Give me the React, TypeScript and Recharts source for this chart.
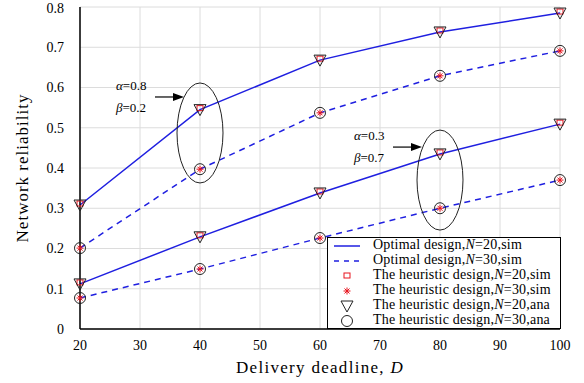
import {
  CartesianGrid,
  ComposedChart,
  Line,
  ReferenceDot,
  Scatter,
  XAxis,
  YAxis,
} from 'recharts';

const deadlines = [20, 40, 60, 80, 100];

// optimal design (sim) – alpha=0.8/beta=0.2 and alpha=0.3/beta=0.7
const optN20a08 = [0.308, 0.545, 0.668, 0.738, 0.785];
const optN30a08 = [0.201, 0.397, 0.537, 0.629, 0.691];
const optN20a03 = [0.112, 0.229, 0.338, 0.435, 0.509];
const optN30a03 = [0.077, 0.149, 0.226, 0.3, 0.37];

// heuristic design, sim and ana
const heurSimN20a08 = [0.308, 0.545, 0.668, 0.738, 0.785];
const heurSimN30a08 = [0.201, 0.397, 0.537, 0.629, 0.691];
const heurSimN20a03 = [0.112, 0.229, 0.338, 0.435, 0.509];
const heurSimN30a03 = [0.077, 0.149, 0.226, 0.3, 0.37];
const heurAnaN20a08 = [0.308, 0.545, 0.668, 0.738, 0.785];
const heurAnaN30a08 = [0.201, 0.397, 0.537, 0.629, 0.691];
const heurAnaN20a03 = [0.112, 0.229, 0.338, 0.435, 0.509];
const heurAnaN30a03 = [0.077, 0.149, 0.226, 0.3, 0.37];

const xTicks = [20, 30, 40, 50, 60, 70, 80, 90, 100];
const yTicks = [0, 0.1, 0.2, 0.3, 0.4, 0.5, 0.6, 0.7, 0.8];

const legendLabels = [
  'Optimal design,',
  'Optimal design,',
  'The heuristic design,',
  'The heuristic design,',
  'The heuristic design,',
  'The heuristic design,',
];
const legendSuffix = ['=20,sim', '=30,sim', '=20,sim', '=30,sim', '=20,ana', '=30,ana'];

const FONT = '"Liberation Serif", "DejaVu Serif", serif';
const BLUE = '#1f1fe0';
const RED = '#e8141e';

const chartData = deadlines.map((d, i) => ({
  D: d,
  o20a: optN20a08[i],
  o30a: optN30a08[i],
  o20b: optN20a03[i],
  o30b: optN30a03[i],
  hs20a: heurSimN20a08[i],
  hs30a: heurSimN30a08[i],
  hs20b: heurSimN20a03[i],
  hs30b: heurSimN30a03[i],
  ha20a: heurAnaN20a08[i],
  ha30a: heurAnaN30a08[i],
  ha20b: heurAnaN20a03[i],
  ha30b: heurAnaN30a03[i],
}));

function Triangle({ cx, cy }: any) {
  if (cx == null || cy == null) return null;
  return (
    <path
      d={`M${cx - 6},${cy - 5} L${cx + 6},${cy - 5} L${cx},${cy + 6} Z`}
      fill="none"
      stroke="#222"
      strokeWidth={1}
    />
  );
}

function Circle({ cx, cy }: any) {
  if (cx == null || cy == null) return null;
  return <circle cx={cx} cy={cy} r={5.5} fill="none" stroke="#222" strokeWidth={1} />;
}

function Square({ cx, cy }: any) {
  if (cx == null || cy == null) return null;
  return <rect x={cx - 3} y={cy - 4} width={6} height={5} fill="none" stroke={RED} strokeWidth={1} />;
}

function Star({ cx, cy }: any) {
  if (cx == null || cy == null) return null;
  const r = 3.5;
  return (
    <g stroke={RED} strokeWidth={1}>
      <line x1={cx - r} y1={cy} x2={cx + r} y2={cy} />
      <line x1={cx} y1={cy - r} x2={cx} y2={cy + r} />
      <line x1={cx - 2.5} y1={cy - 2.5} x2={cx + 2.5} y2={cy + 2.5} />
      <line x1={cx - 2.5} y1={cy + 2.5} x2={cx + 2.5} y2={cy - 2.5} />
    </g>
  );
}

function Annotation({ cx, cy, ry, dx, dy, alpha, beta }: any) {
  if (cx == null || cy == null) return null;
  const ax = cx + dx;
  const ay = cy + dy;
  return (
    <g>
      <ellipse cx={cx} cy={cy} rx={23} ry={ry} fill="none" stroke="#222" strokeWidth={1} />
      <line x1={ax - 29} y1={ay} x2={ax - 8} y2={ay} stroke="#000" strokeWidth={1.2} />
      <path d={`M${ax - 11},${ay - 4} L${ax},${ay} L${ax - 11},${ay + 4} Z`} fill="#000" />
      <text x={ax - 68} y={ay - 7} fontFamily={FONT} fontSize={13} fill="#000">
        <tspan fontStyle="italic">α</tspan>=0.{alpha}
      </text>
      <text x={ax - 68} y={ay + 15} fontFamily={FONT} fontSize={13} fill="#000">
        <tspan fontStyle="italic">β</tspan>=0.{beta}
      </text>
    </g>
  );
}

function LegendBox() {
  const glyph = (i: number) => {
    if (i === 0) return <line x1={4} y1={8} x2={30} y2={8} stroke={BLUE} strokeWidth={1.5} />;
    if (i === 1)
      return <line x1={4} y1={8} x2={30} y2={8} stroke={BLUE} strokeWidth={1.5} strokeDasharray="5 5" />;
    if (i === 2) return <Square cx={17} cy={9} />;
    if (i === 3) return <Star cx={17} cy={8} />;
    if (i === 4) return <Triangle cx={17} cy={8} />;
    return <Circle cx={17} cy={8} />;
  };
  return (
    <div
      style={{
        position: 'absolute',
        left: 327,
        top: 237,
        width: 234,
        height: 92,
        background: '#fff',
        border: '1.5px solid #000',
        padding: '0px 2px',
        fontFamily: FONT,
        fontSize: 14,
        lineHeight: '14.9px',
        color: '#000',
        boxSizing: 'border-box',
      }}
    >
      {legendLabels.map((label, i) => (
        <div key={i} style={{ display: 'flex', alignItems: 'center', whiteSpace: 'nowrap' }}>
          <svg width={34} height={14} style={{ flex: 'none' }}>
            {glyph(i)}
          </svg>
          <span style={{ marginLeft: 9, letterSpacing: 0.2 }}>
            {label}
            <i>N</i>
            {legendSuffix[i]}
          </span>
        </div>
      ))}
    </div>
  );
}

export default function App() {
  return (
    <div style={{ position: 'absolute', left: 0, top: 0, width: 584, height: 383, background: '#fff' }}>
      <ComposedChart
        width={584}
        height={383}
        data={chartData}
        margin={{ top: 7, right: 24, left: 20, bottom: 24 }}
      >
        <CartesianGrid stroke="#dcdcdc" strokeWidth={1} />
        <XAxis
          dataKey="D"
          type="number"
          domain={[20, 100]}
          ticks={xTicks}
          tick={{ fill: '#000', fontSize: 14, fontFamily: FONT }}
          tickLine={false}
          axisLine={{ stroke: '#000', strokeWidth: 1.5 }}
          tickMargin={5}
          height={30}
        />
        <XAxis
          xAxisId="top"
          orientation="top"
          dataKey="D"
          type="number"
          domain={[20, 100]}
          ticks={xTicks}
          tick={false}
          tickLine={false}
          axisLine={{ stroke: '#000', strokeWidth: 1.5 }}
          height={0}
        />
        <YAxis
          type="number"
          domain={[0, 0.8]}
          ticks={yTicks}
          tickFormatter={(v: number) => (v === 0 ? '0' : String(v))}
          tick={{ fill: '#000', fontSize: 14, fontFamily: FONT }}
          tickLine={false}
          axisLine={{ stroke: '#000', strokeWidth: 1.5 }}
          width={60}
          tickMargin={10}
          label={{
            value: 'Network reliability',
            angle: -90,
            position: 'insideLeft',
            offset: 2,
            style: { textAnchor: 'middle', letterSpacing: 1 },
            fill: '#000',
            fontSize: 17,
            fontFamily: FONT,
          }}
        />
        <YAxis
          yAxisId="right"
          orientation="right"
          type="number"
          domain={[0, 0.8]}
          ticks={yTicks}
          tick={false}
          tickLine={false}
          axisLine={{ stroke: '#000', strokeWidth: 1.5 }}
          width={0}
        />
        <Line dataKey="o20a" stroke={BLUE} strokeWidth={1.5} dot={false} isAnimationActive={false} />
        <Line dataKey="o30a" stroke={BLUE} strokeWidth={1.5} strokeDasharray="6 5" dot={false} isAnimationActive={false} />
        <Line dataKey="o20b" stroke={BLUE} strokeWidth={1.5} dot={false} isAnimationActive={false} />
        <Line dataKey="o30b" stroke={BLUE} strokeWidth={1.5} strokeDasharray="6 5" dot={false} isAnimationActive={false} />
        <Scatter dataKey="hs20a" shape={<Square />} isAnimationActive={false} />
        <Scatter dataKey="hs20b" shape={<Square />} isAnimationActive={false} />
        <Scatter dataKey="hs30a" shape={<Star />} isAnimationActive={false} />
        <Scatter dataKey="hs30b" shape={<Star />} isAnimationActive={false} />
        <Scatter dataKey="ha20a" shape={<Triangle />} isAnimationActive={false} />
        <Scatter dataKey="ha20b" shape={<Triangle />} isAnimationActive={false} />
        <Scatter dataKey="ha30a" shape={<Circle />} isAnimationActive={false} />
        <Scatter dataKey="ha30b" shape={<Circle />} isAnimationActive={false} />
        <ReferenceDot
          x={40}
          y={0.487}
          ifOverflow="visible"
          shape={(p: any) => <Annotation {...p} ry={50} dx={-16} dy={-36} alpha={8} beta={2} />}
        />
        <ReferenceDot
          x={80}
          y={0.37}
          ifOverflow="visible"
          shape={(p: any) => <Annotation {...p} ry={50} dx={-18} dy={-33} alpha={3} beta={7} />}
        />
      </ComposedChart>
      <div
        style={{
          position: 'absolute',
          left: 0,
          top: 358,
          width: 640,
          textAlign: 'center',
          fontFamily: FONT,
          fontSize: 17,
          lineHeight: '20px',
          letterSpacing: 1.3,
          color: '#000',
        }}
      >
        Delivery deadline, <i>D</i>
      </div>
      <LegendBox />
    </div>
  );
}
